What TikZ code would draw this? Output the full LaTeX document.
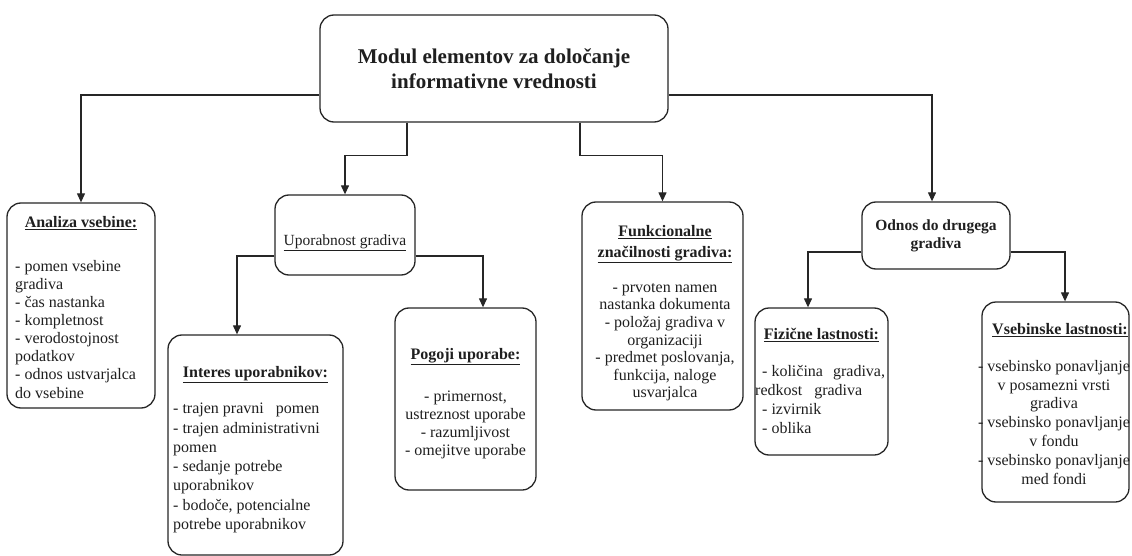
\documentclass[tikz,border=0pt]{standalone}
\usepackage{fontspec}
\setmainfont{Liberation Serif}
\usetikzlibrary{arrows.meta}
\tikzset{
 box/.style={draw=black!85, line width=1.3pt, rounded corners=14pt, fill=white, inner sep=0pt},
 conn/.style={draw=black!85, line width=1.2pt, -{Triangle[length=9pt,width=8pt]}},
 ttl/.style={font=\fontsize{16}{21}\selectfont\bfseries, text=black!88, inner sep=0pt, align=center, anchor=north},
 body/.style={font=\fontsize{16}{18.5}\selectfont, text=black!88, inner sep=0pt},
}
\newcommand{\myul}[1]{\underline{#1}}
\begin{document}
\begin{tikzpicture}[x=1pt,y=-1pt]
\useasboundingbox (0,0) rectangle (1132,556);
% boxes
\node[box, minimum width=348pt, minimum height=107pt, font=\fontsize{21}{25}\selectfont\bfseries, text=black!88, align=center] (top) at (494,68.5) {Modul elementov za določanje\\informativne vrednosti};
\node[box, minimum width=148pt, minimum height=205pt] (ana) at (81,305.5) {};
\node[box, minimum width=140pt, minimum height=80pt, font=\fontsize{15.5}{19}\selectfont, text=black!88] (upo) at (345,235) {\raisebox{-10pt}[0pt][0pt]{\myul{Uporabnost gradiva}}};
\node[box, minimum width=175pt, minimum height=220pt] (int) at (255.5,445) {};
\node[box, minimum width=141pt, minimum height=182pt] (pog) at (465.5,399) {};
\node[box, minimum width=161pt, minimum height=208pt] (fun) at (662.5,306) {};
\node[box, minimum width=148pt, minimum height=67pt, font=\fontsize{15.5}{18}\selectfont\bfseries, text=black!88, align=center] (odn) at (936,235.5) {Odnos do drugega\\gradiva};
\node[box, minimum width=133pt, minimum height=147pt] (fiz) at (821.5,381.5) {};
\node[box, minimum width=147pt, minimum height=200pt] (vse) at (1055.5,402) {};
% connectors
\draw[conn] ([yshift=-26.5pt]top.west) -| (ana);
\draw[conn] ([yshift=-26.5pt]top.east) -| ([xshift=-4pt]odn.north);
\draw[conn] ([xshift=-87pt]top.south) -- ++(0,33) -| (upo);
\draw[conn] ([xshift=86pt]top.south) -- ++(0,33) -| (fun);
\draw[conn] ([yshift=-21pt]upo.west) -| ([xshift=-18.5pt]int.north);
\draw[conn] ([yshift=-21pt]upo.east) -| ([xshift=17.5pt]pog.north);
\draw[conn] ([yshift=-16.5pt]odn.west) -| ([xshift=-13.5pt]fiz.north);
\draw[conn] ([yshift=-16.5pt]odn.east) -| ([xshift=9.5pt]vse.north);
% Analiza
\node[ttl] (anat) at (81,216) {\myul{Analiza vsebine:}};
\node[body, align=left, anchor=north west, font=\fontsize{16}{18.1}\selectfont] (anab) at (15,260) {- pomen vsebine\\gradiva\\- čas nastanka\\- kompletnost\\- verodostojnost\\podatkov\\- odnos ustvarjalca\\do vsebine};
% Interes
\node[ttl] (intt) at (255.5,366) {\myul{Interes uporabnikov:}};
\node[body, align=left, anchor=north west, font=\fontsize{16}{19.3}\selectfont] (intb) at (173,403) {- trajen pravni\hspace{12pt}pomen\\- trajen administrativni\\pomen\\- sedanje potrebe\\uporabnikov\\- bodoče, potencialne\\potrebe uporabnikov};
% Pogoji
\node[ttl] (pogt) at (465.5,348) {\myul{Pogoji uporabe:}};
\node[body, align=center, anchor=north, font=\fontsize{16}{18}\selectfont] (pogb) at (465.5,391) {- primernost,\\ustreznost uporabe\\- razumljivost\\- omejitve uporabe};
% Funkcionalne
\node[ttl] (funt) at (665,225) {\myul{Funkcionalne}\\\myul{značilnosti gradiva:}};
\node[body, align=center, anchor=north, font=\fontsize{16}{17.6}\selectfont] (funb) at (665,283) {- prvoten namen\\nastanka dokumenta\\- položaj gradiva v\\organizaciji\\- predmet poslovanja,\\funkcija, naloge\\usvarjalca};
% Fizicne
\node[ttl] (fizt) at (821.5,328) {\myul{Fizične lastnosti:}};
\node[body, align=left, anchor=north west, font=\fontsize{16}{19}\selectfont] (fizb) at (762,365) {- količina\hspace{10pt}gradiva,\\\hspace*{-7pt}redkost\hspace{12pt}gradiva\\- izvirnik\\- oblika};
% Vsebinske
\node[ttl] (vset) at (1060,323) {\myul{Vsebinske lastnosti:}};
\node[body, align=center, anchor=north, font=\fontsize{16}{18.8}\selectfont] (vseb) at (1054,360) {- vsebinsko ponavljanje\\v posamezni vrsti\\gradiva\\- vsebinsko ponavljanje\\v fondu\\- vsebinsko ponavljanje\\med fondi};
\end{tikzpicture}
\end{document}
